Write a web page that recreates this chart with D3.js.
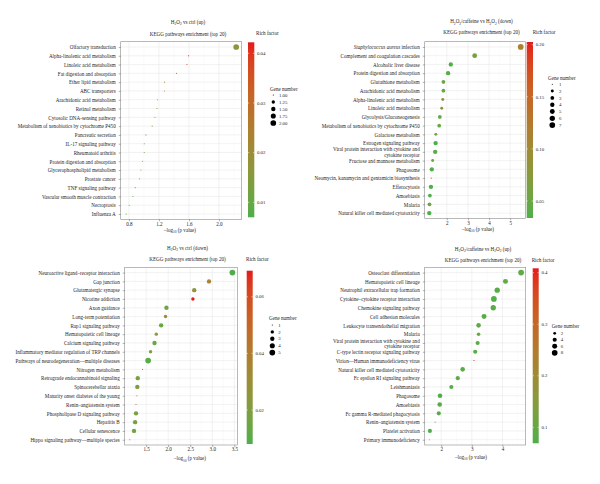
<!DOCTYPE html>
<html><head><meta charset="utf-8">
<script src="https://cdn.jsdelivr.net/npm/d3@7"></script>
<style>
body{margin:0;background:#fff}
svg{display:block}
text{font-family:"Liberation Serif","Times New Roman",serif;fill:#262626}
</style>
</head><body>
<svg id="chart" width="600" height="484"></svg>
<script>
// ---------- DATA ----------
const subTitle = "KEGG pathways enrichment (top 20)";
const xTitle = "–log_{10} (p value)";
const italicTerms = ["Staphylococcus aureus"];

// Panel 1: H2O2 vs ctrl (up)
const p1Title = "H_{2}O_{2} vs ctrl (up)";
const p1Pathways = ["Olfactory transduction","Alpha-linolenic acid metabolism","Linoleic acid metabolism","Fat digestion and absorption","Ether lipid metabolism","ABC transporters","Arachidonic acid metabolism","Retinol metabolism","Cytosolic DNA-sensing pathway","Metabolism of xenobiotics by cytochrome P450","Pancreatic secretion","IL-17 signaling pathway","Rheumatoid arthritis","Protein digestion and absorption","Glycerophospholipid metabolism","Prostate cancer","TNF signaling pathway","Vascular smooth muscle contraction","Necroptosis","Influenza A"];
const p1LogP = [2.23,1.595,1.573,1.435,1.275,1.275,1.18,1.173,1.147,1.11,1.027,1.004,1.004,0.98,0.96,0.94,0.884,0.853,0.804,0.764];
const p1Genes = [2,1,1,1,1,1,1,1,1,1,1,1,1,1,1,1,1,1,1,1];
const p1Rich = [0.017,0.0422,0.037,0.030,0.021,0.020,0.016,0.016,0.016,0.016,0.010,0.011,0.012,0.0105,0.0105,0.0105,0.009,0.0077,0.0075,0.007];
const p1XTicks = [0.8,1.2,1.6,2.0];
const p1RichTicks = [0.01,0.02,0.03,0.04];
const p1GeneBreaks = [1,1.25,1.5,1.75,2];

// Panel 2: H2O2/caffeine vs H2O2 (down)
const p2Title = "H_{2}O_{2}/caffeine vs H_{2}O_{2} (down)";
const p2Pathways = ["Staphylococcus aureus infection","Complement and coagulation cascades","Alcoholic liver disease","Protein digestion and absorption","Glutathione metabolism","Arachidonic acid metabolism","Alpha-linolenic acid metabolism","Linoleic acid metabolism","Glycolysis/Gluconeogenesis","Metabolism of xenobiotics by cytochrome P450","Galactose metabolism","Estrogen signaling pathway","Viral protein interaction with cytokine and\ncytokine receptor","Fructose and mannose metabolism","Phagosome","Neomycin, kanamycin and gentamicin biosynthesis","Efferocytosis","Amoebiasis","Malaria","Natural killer cell mediated cytotoxicity"];
const p2LogP = [5.50,3.32,2.19,2.06,1.84,1.84,1.81,1.76,1.67,1.64,1.48,1.47,1.45,1.33,1.29,1.26,1.25,1.20,1.18,1.17];
const p2Genes = [7,5,4,4,3,3,2,2,3,3,2,4,4,2,4,1,4,3,3,4];
const p2Rich = [0.115,0.060,0.036,0.040,0.050,0.045,0.090,0.085,0.045,0.050,0.062,0.034,0.040,0.057,0.036,0.2026,0.034,0.036,0.055,0.0337];
const p2XTicks = [2,3,4,5];
const p2RichTicks = [0.05,0.10,0.15,0.20];
const p2GeneBreaks = [1,2,3,4,5,6,7];

// Panel 3: H2O2 vs ctrl (down)
const p3Title = "H_{2}O_{2} vs ctrl (down)";
const p3Pathways = ["Neuroactive ligand–receptor interaction","Gap junction","Glutamatergic synapse","Nicotine addiction","Axon guidance","Long-term potentiation","Rap1 signaling pathway","Hematopoietic cell lineage","Calcium signaling pathway","Inflammatory mediator regulation of TRP channels","Pathways of neurodegeneration—multiple diseases","Nitrogen metabolism","Retrograde endocannabinoid signaling","Spinocerebellar ataxia","Maturity onset diabetes of the young","Renin–angiotensin system","Phospholipase D signaling pathway","Hepatitis B","Cellular senescence","Hippo signaling pathway—multiple species"];
const p3LogP = [3.455,2.925,2.59,2.56,1.96,1.94,1.84,1.73,1.69,1.60,1.545,1.42,1.31,1.30,1.29,1.27,1.27,1.25,1.225,1.13];
const p3Genes = [5,3,3,2,3,2,3,2,3,2,5,1,3,3,1,1,3,3,3,1];
const p3Rich = [0.008,0.036,0.026,0.0692,0.016,0.031,0.014,0.021,0.0125,0.020,0.0104,0.059,0.018,0.020,0.050,0.048,0.019,0.018,0.016,0.042];
const p3XTicks = [1.5,2.0,2.5,3.0,3.5];
const p3RichTicks = [0.02,0.04,0.06];
const p3GeneBreaks = [1,2,3,4,5];

// Panel 4: H2O2/caffeine vs H2O2 (up)
const p4Title = "H_{2}O_{2}/caffeine vs H_{2}O_{2} (up)";
const p4Pathways = ["Osteoclast differentiation","Hematopoietic cell lineage","Neutrophil extracellular trap formation","Cytokine–cytokine receptor interaction","Chemokine signaling pathway","Cell adhesion molecules","Leukocyte transendothelial migration","Malaria","Viral protein interaction with cytokine and\ncytokine receptor","C-type lectin receptor signaling pathway","Virion—Human immunodeficiency virus","Natural killer cell mediated cytotoxicity","Fc epsilon RI signaling pathway","Leishmaniasis","Phagosome","Amoebiasis","Fc gamma R-mediated phagocytosis","Renin–angiotensin system","Platelet activation","Primary immunodeficiency"];
const p4LogP = [4.61,4.10,3.83,3.72,3.70,3.40,3.22,3.22,3.19,3.11,3.07,2.70,2.54,2.33,1.96,1.95,1.92,1.80,1.63,1.61];
const p4Genes = [8,6,7,8,7,6,5,3,4,4,1,5,4,4,5,5,4,1,4,1];
const p4Rich = [0.085,0.090,0.080,0.075,0.080,0.085,0.085,0.100,0.080,0.080,0.4085,0.080,0.090,0.080,0.069,0.080,0.080,0.160,0.069,0.110];
const p4XTicks = [2,3,4];
const p4RichTicks = [0.1,0.2,0.3,0.4];
const p4GeneBreaks = [2,4,6,8];

// ---------- DRAWING ----------
const LOW = "#4DAF4A", HIGH = "#E41A1C";
const FS = 5.1;
const svg = d3.select("#chart");
const defs = svg.append("defs");

function addRich(textSel, str){
  const parts = str.split(/(_\{[^}]*\})/);
  let shifted = false;
  parts.forEach(p => {
    if (!p) return;
    const m = p.match(/^_\{([^}]*)\}$/);
    if (m) {
      textSel.append("tspan").attr("dy", shifted ? 0 : 1.3).attr("font-size", FS*0.7).text(m[1]);
      shifted = true;
    } else {
      textSel.append("tspan").attr("dy", shifted ? -1.3 : 0).text(p);
      shifted = false;
    }
  });
}

function drawPanel(cfg, id){
  const g = svg.append("g");
  const ext = d3.extent(cfg.logp);
  const pad = (ext[1]-ext[0])*0.05;
  const x = d3.scaleLinear().domain([ext[0]-pad, ext[1]+pad]).range([cfg.x0, cfg.x1]);
  const y = d3.scalePoint().domain(cfg.pathways).range([cfg.y0, cfg.y1]).padding(0.6);
  const rExt = d3.extent(cfg.rich);
  const color = d3.scaleLinear().domain(rExt).range([LOW, HIGH]).interpolate(d3.interpolateLab);
  const gExt = d3.extent(cfg.genes);
  const tSize = d3.scaleLinear().domain(gExt).range([0,1]).clamp(true);
  const rad = n => 0.55 + 2.3*Math.sqrt(tSize(n));

  // grid
  const minor = [];
  for (let i=0;i<cfg.xTicks.length;i++){
    const step = cfg.xTicks[1]-cfg.xTicks[0];
    minor.push(cfg.xTicks[i]-step/2);
    if (i===cfg.xTicks.length-1) minor.push(cfg.xTicks[i]+step/2);
  }
  const dom = x.domain();
  g.selectAll(".mg").data(minor.filter(v=>v>dom[0]&&v<dom[1])).join("line")
    .attr("x1",d=>x(d)).attr("x2",d=>x(d)).attr("y1",cfg.y0).attr("y2",cfg.y1)
    .attr("stroke","#f2f2f2").attr("stroke-width",0.35);
  g.selectAll(".Mg").data(cfg.xTicks).join("line")
    .attr("x1",d=>x(d)).attr("x2",d=>x(d)).attr("y1",cfg.y0).attr("y2",cfg.y1)
    .attr("stroke","#e8e8e8").attr("stroke-width",0.55);
  g.selectAll(".hg").data(cfg.pathways).join("line")
    .attr("x1",cfg.x0).attr("x2",cfg.x1).attr("y1",d=>y(d)).attr("y2",d=>y(d))
    .attr("stroke","#e8e8e8").attr("stroke-width",0.55);

  // points
  g.selectAll(".pt").data(cfg.pathways.map((p,i)=>({p, v:cfg.logp[i], n:cfg.genes[i], r:cfg.rich[i]})))
    .join("circle")
    .attr("cx",d=>x(d.v)).attr("cy",d=>y(d.p)).attr("r",d=>rad(d.n))
    .attr("fill",d=>color(d.r));

  // border
  g.append("rect").attr("x",cfg.x0).attr("y",cfg.y0).attr("width",cfg.x1-cfg.x0).attr("height",cfg.y1-cfg.y0)
    .attr("fill","none").attr("stroke","#8a8a8a").attr("stroke-width",0.6);

  // x axis
  const xa = g.append("g").attr("transform",`translate(0,${cfg.y1})`)
    .call(d3.axisBottom(x).tickValues(cfg.xTicks).tickFormat(d3.format(cfg.xFmt)).tickSize(2).tickPadding(0.8));
  xa.select(".domain").remove();
  xa.selectAll(".tick line").attr("stroke","#555").attr("stroke-width",0.45);
  xa.selectAll(".tick text").attr("font-size",FS).attr("font-family",null).attr("fill","#262626");

  // y axis
  const ya = g.append("g").attr("transform",`translate(${cfg.x0},0)`)
    .call(d3.axisLeft(y).tickSize(2).tickPadding(3));
  ya.select(".domain").remove();
  ya.selectAll(".tick line").attr("stroke","#555").attr("stroke-width",0.45);
  ya.selectAll(".tick text").attr("font-size",FS).attr("font-family",null).attr("fill","#262626")
    .each(function(d){
      const t = d3.select(this);
      const xpos = t.attr("x");
      t.text(null).attr("dy",null);
      const lines = d.split("\n");
      const lh = 5.2;
      lines.forEach((ln,i)=>{
        const dy = i===0 ? (FS*0.34 - (lines.length-1)*lh/2) : lh;
        const it = italicTerms.find(k=>ln.startsWith(k));
        if (it){
          t.append("tspan").attr("x",xpos).attr("dy",dy).attr("font-style","italic").text(it);
          t.append("tspan").text(ln.slice(it.length));
        } else {
          t.append("tspan").attr("x",xpos).attr("dy",dy).text(ln);
        }
      });
    });

  // titles
  addRich(g.append("text").attr("x",cfg.tcx).attr("y",cfg.ty1).attr("dy","0.35em").attr("text-anchor","middle").attr("font-size",FS), cfg.title);
  g.append("text").attr("x",cfg.tcx).attr("y",cfg.ty2).attr("dy","0.35em").attr("text-anchor","middle").attr("font-size",FS).text(subTitle);
  addRich(g.append("text").attr("x",cfg.axcx).attr("y",cfg.axy).attr("dy","0.35em").attr("text-anchor","middle").attr("font-size",FS), xTitle);

  // colorbar
  const gid = "grad"+id;
  const grad = defs.append("linearGradient").attr("id",gid).attr("x1",0).attr("y1",1).attr("x2",0).attr("y2",0);
  d3.range(0,1.0001,0.05).forEach(t=>{
    grad.append("stop").attr("offset",t).attr("stop-color",color(rExt[0]+t*(rExt[1]-rExt[0])));
  });
  const cy = d3.scaleLinear().domain(rExt).range([cfg.cb.y1, cfg.cb.y0]);
  g.append("rect").attr("x",cfg.cb.x).attr("y",cfg.cb.y0).attr("width",cfg.cb.w).attr("height",cfg.cb.y1-cfg.cb.y0)
    .attr("fill",`url(#${gid})`);
  cfg.richTicks.forEach(v=>{
    const yy = cy(v);
    g.append("line").attr("x1",cfg.cb.x).attr("x2",cfg.cb.x+1.3).attr("y1",yy).attr("y2",yy).attr("stroke","#fff").attr("stroke-width",0.5);
    g.append("line").attr("x1",cfg.cb.x+cfg.cb.w-1.3).attr("x2",cfg.cb.x+cfg.cb.w).attr("y1",yy).attr("y2",yy).attr("stroke","#fff").attr("stroke-width",0.5);
    g.append("text").attr("x",cfg.cb.x+cfg.cb.w+2.7).attr("y",yy).attr("dy","0.35em").attr("font-size",FS*0.95).text(d3.format(cfg.richFmt)(v));
  });
  g.append("text").attr("x",cfg.rt.x).attr("y",cfg.rt.y).attr("dy","0.35em").attr("font-size",FS).text("Rich factor");

  // size legend
  g.append("text").attr("x",cfg.gl.x).attr("y",cfg.gl.y).attr("dy","0.35em").attr("font-size",FS).text("Gene number");
  cfg.geneBreaks.forEach((b,i)=>{
    const yy = cfg.gl.iy + i*cfg.gl.step;
    g.append("circle").attr("cx",cfg.gl.dx).attr("cy",yy).attr("r",rad(b)).attr("fill","#000");
    g.append("text").attr("x",cfg.gl.lx).attr("y",yy).attr("dy","0.35em").attr("font-size",FS*0.95).text(d3.format(cfg.geneFmt)(b));
  });
}

drawPanel({title:p1Title, pathways:p1Pathways, logp:p1LogP, genes:p1Genes, rich:p1Rich,
  xTicks:p1XTicks, xFmt:".1f", richTicks:p1RichTicks, richFmt:".2f", geneBreaks:p1GeneBreaks, geneFmt:".2f",
  x0:120.7, x1:241.7, y0:41.7, y1:219.3, tcx:188, ty1:24, ty2:34, axcx:180, axy:232,
  cb:{x:248, w:6.3, y0:42.3, y1:217.3}, rt:{x:256, y:33},
  gl:{x:270, y:89, iy:95, step:7, dx:273.3, lx:279}}, 1);

drawPanel({title:p2Title, pathways:p2Pathways, logp:p2LogP, genes:p2Genes, rich:p2Rich,
  xTicks:p2XTicks, xFmt:"d", richTicks:p2RichTicks, richFmt:".2f", geneBreaks:p2GeneBreaks, geneFmt:"d",
  x0:424.7, x1:525.3, y0:41.7, y1:218.3, tcx:481.5, ty1:23.3, ty2:32.3, axcx:478, axy:231,
  cb:{x:526.7, w:6.3, y0:42, y1:218}, rt:{x:532.7, y:32.3},
  gl:{x:548, y:78.3, iy:84.3, step:6.8, dx:552.3, lx:559}}, 2);

drawPanel({title:p3Title, pathways:p3Pathways, logp:p3LogP, genes:p3Genes, rich:p3Rich,
  xTicks:p3XTicks, xFmt:".1f", richTicks:p3RichTicks, richFmt:".2f", geneBreaks:p3GeneBreaks, geneFmt:"d",
  x0:124.7, x1:237.5, y0:267.3, y1:445, tcx:187.5, ty1:250, ty2:259.5, axcx:190, axy:460.3,
  cb:{x:246.7, w:6, y0:270.7, y1:444}, rt:{x:246, y:259.7},
  gl:{x:269, y:318.7, iy:325, step:6.9, dx:272.3, lx:278.3}}, 3);

drawPanel({title:p4Title, pathways:p4Pathways, logp:p4LogP, genes:p4Genes, rich:p4Rich,
  xTicks:p4XTicks, xFmt:"d", richTicks:p4RichTicks, richFmt:".1f", geneBreaks:p4GeneBreaks, geneFmt:"d",
  x0:424.7, x1:525.7, y0:267.3, y1:445, tcx:483, ty1:250.7, ty2:260, axcx:471, axy:459,
  cb:{x:532.7, w:6, y0:268.3, y1:443.3}, rt:{x:531.7, y:260},
  gl:{x:551.7, y:326, iy:333.3, step:6.5, dx:554.7, lx:560.7}}, 4);
</script>
</body></html>
